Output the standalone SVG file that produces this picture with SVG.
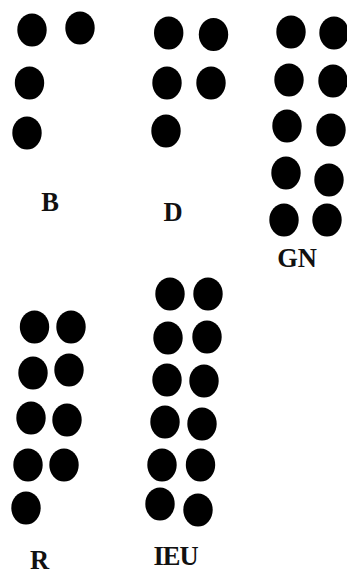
<svg xmlns="http://www.w3.org/2000/svg" width="347" height="578" viewBox="0 0 347 578">
  <defs>
    <style>
      .dot { fill: #000; }
      .lbl { font-family: "Liberation Serif", "Times New Roman", serif; font-weight: bold; font-size: 26.5px; fill: #111; text-anchor: middle; }
    </style>
    <ellipse id="d" class="dot" cx="0" cy="0" rx="14.7" ry="16.5"/>
  </defs>
  <rect width="347" height="578" fill="#fff"/>

  <!-- cell B -->
  <g id="cell-B">
    <use href="#d" x="32" y="30"/>
    <use href="#d" x="80" y="28"/>
    <use href="#d" x="29.5" y="83"/>
    <use href="#d" x="27" y="133"/>
    <text class="lbl" x="50" y="211">B</text>
  </g>

  <!-- cell D -->
  <g id="cell-D">
    <use href="#d" x="168.7" y="33"/>
    <use href="#d" x="213.5" y="34.5"/>
    <use href="#d" x="167" y="83"/>
    <use href="#d" x="211" y="83"/>
    <use href="#d" x="166" y="131"/>
    <text class="lbl" x="173" y="220.5">D</text>
  </g>

  <!-- cell GN -->
  <g id="cell-GN">
    <use href="#d" x="291" y="32"/>
    <use href="#d" x="334" y="33"/>
    <use href="#d" x="289" y="80"/>
    <use href="#d" x="333" y="81"/>
    <use href="#d" x="287" y="126"/>
    <use href="#d" x="331" y="130"/>
    <use href="#d" x="286" y="173"/>
    <use href="#d" x="329" y="180"/>
    <use href="#d" x="284" y="220"/>
    <use href="#d" x="327" y="220"/>
    <text class="lbl" x="297" y="266.5">GN</text>
  </g>

  <!-- cell R -->
  <g id="cell-R">
    <use href="#d" x="34.5" y="327"/>
    <use href="#d" x="71" y="327"/>
    <use href="#d" x="33" y="373"/>
    <use href="#d" x="69" y="370"/>
    <use href="#d" x="31" y="418"/>
    <use href="#d" x="67" y="420"/>
    <use href="#d" x="28" y="465"/>
    <use href="#d" x="64" y="465"/>
    <use href="#d" x="26" y="508"/>
    <text class="lbl" x="39.5" y="569">R</text>
  </g>

  <!-- cell IEU -->
  <g id="cell-IEU">
    <use href="#d" x="170" y="294"/>
    <use href="#d" x="208" y="294"/>
    <use href="#d" x="168" y="338"/>
    <use href="#d" x="207" y="337"/>
    <use href="#d" x="167" y="380"/>
    <use href="#d" x="204" y="381"/>
    <use href="#d" x="165" y="422"/>
    <use href="#d" x="202" y="424"/>
    <use href="#d" x="162" y="465"/>
    <use href="#d" x="200.5" y="465"/>
    <use href="#d" x="160" y="504"/>
    <use href="#d" x="198" y="510"/>
    <text class="lbl" x="175.5" y="565" letter-spacing="-1">IEU</text>
  </g>
</svg>
